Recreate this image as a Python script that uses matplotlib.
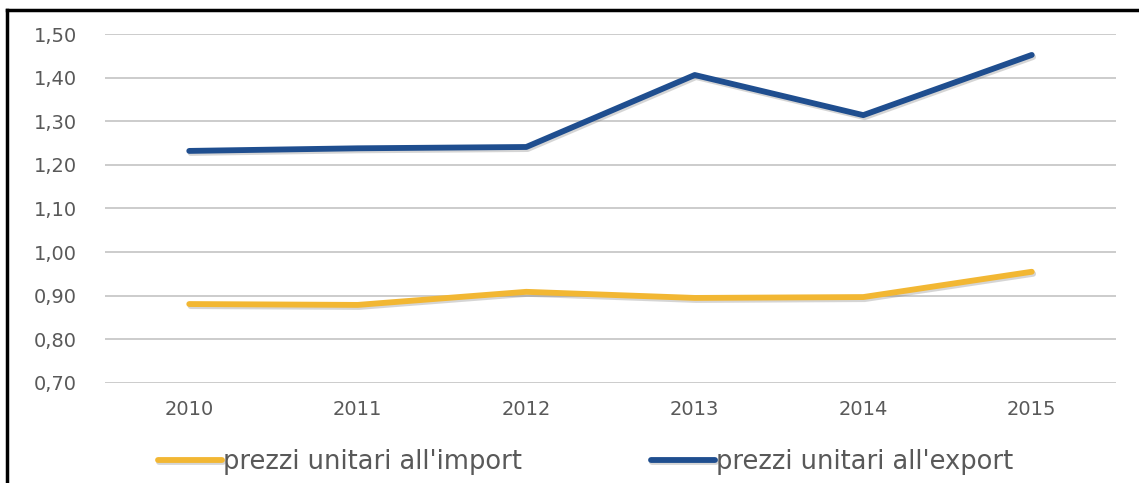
import matplotlib
matplotlib.use("Agg")
import matplotlib.pyplot as plt
import matplotlib.patheffects as pe
from matplotlib.lines import Line2D

plt.rcParams['font.family'] = ['DejaVu Sans']

anni = ['2010', '2011', '2012', '2013', '2014', '2015']
prezzi_import = [0.881, 0.879, 0.909, 0.895, 0.897, 0.955]
prezzi_export = [1.232, 1.238, 1.241, 1.406, 1.314, 1.452]
y_ticks = [0.70, 0.80, 0.90, 1.00, 1.10, 1.20, 1.30, 1.40, 1.50]
y_labels = ['0,70', '0,80', '0,90', '1,00', '1,10', '1,20', '1,30', '1,40', '1,50']

W, H = 1139, 483
fig = plt.figure(figsize=(W / 100, H / 100), dpi=100)
ax = fig.add_axes([105 / W, 1 - 383 / H, (1116 - 105) / W, (383 - 34) / H])

ombra = [pe.SimpleLineShadow(offset=(1, -1.5), shadow_color='#777777', alpha=0.3), pe.Normal()]
x = range(len(anni))
ax.plot(x, prezzi_import, color='#F2B733', lw=4.2, solid_capstyle='round',
        path_effects=ombra, label="prezzi unitari all'import", zorder=3)
ax.plot(x, prezzi_export, color='#1F4E8F', lw=4.2, solid_capstyle='round',
        path_effects=ombra, label="prezzi unitari all'export", zorder=3)

ax.set_xlim(-0.5, len(anni) - 0.5)
ax.set_ylim(0.70, 1.50)
ax.set_xticks(list(x))
ax.set_xticklabels(anni)
ax.set_yticks(y_ticks)
ax.set_yticklabels(y_labels)
ax.tick_params(length=0, labelsize=14, labelcolor='#595959')
ax.tick_params(axis='x', pad=12)
ax.tick_params(axis='y', pad=20)
ax.grid(axis='y', color='#c8c8c8', lw=1.3)
ax.set_axisbelow(True)
for s in ax.spines.values():
    s.set_visible(False)

leg = fig.legend(loc='center', bbox_to_anchor=(0.514, 1 - 462 / H), ncol=2, frameon=False,
                 fontsize=18.5, handlelength=2.5, handletextpad=0.05, columnspacing=5.0)
for t in leg.get_texts():
    t.set_color('#595959')

# cornice nera
fig.add_artist(Line2D([7 / W, 1], [1 - 10 / H, 1 - 10 / H], color='black', lw=2.5, transform=fig.transFigure))
fig.add_artist(Line2D([7 / W, 7 / W], [0, 1 - 10 / H], color='black', lw=2.5, transform=fig.transFigure))

fig.savefig('out.png', dpi=100)
